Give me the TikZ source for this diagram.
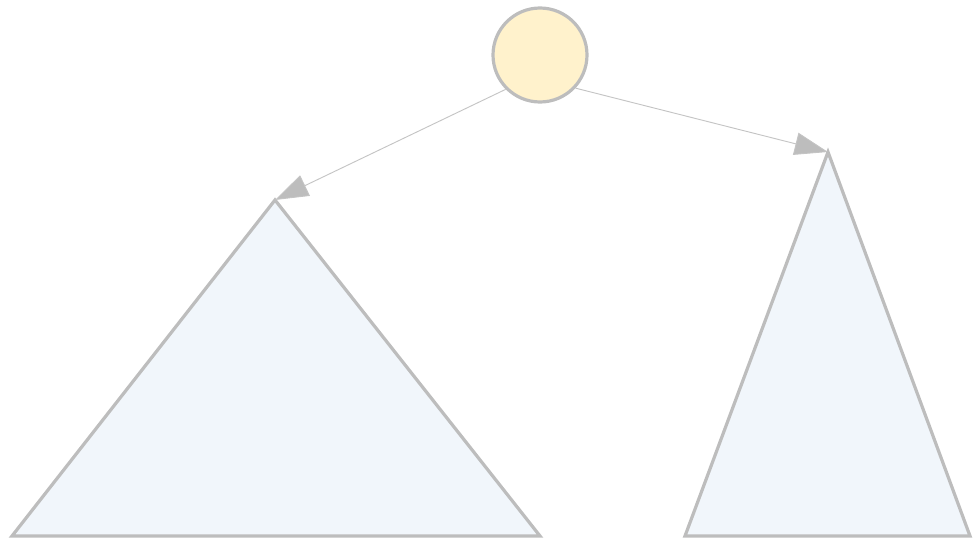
\documentclass[tikz,border=0pt]{standalone}
\usetikzlibrary{arrows.meta}
\definecolor{strokegray}{HTML}{BDBDBD}
\definecolor{linegray}{HTML}{C4C4C4}
\definecolor{nodeyellow}{HTML}{FFF2CC}
\definecolor{treeblue}{HTML}{F1F6FB}
\tikzset{
  rootnode/.style={circle, draw=strokegray, fill=nodeyellow, line width=2.4pt, minimum size=70.5pt, inner sep=0pt},
  subtree/.style={draw=strokegray, fill=treeblue, line width=2.4pt, line join=miter},
  edge/.style={draw=linegray, line width=0.7pt, -{Triangle[length=25pt,width=17pt,fill=strokegray]}},
}
\begin{document}
\begin{tikzpicture}[x=0.75pt,y=-0.75pt]
\useasboundingbox (0,0) rectangle (975,539);
% subtrees
\coordinate (la) at (275,200);
\coordinate (lb) at (12,536);
\coordinate (lc) at (540,536);
\coordinate (ra) at (828,152);
\coordinate (rb) at (685,536);
\coordinate (rc) at (970,536);
\path[subtree] (la) -- (lb) -- (lc) -- cycle;
\path[subtree] (ra) -- (rb) -- (rc) -- cycle;
% root
\node[rootnode] (root) at (540,55) {};
% edges
\draw[edge] (root.225) -- (la);
\draw[edge] (root.-43) -- (ra);
\end{tikzpicture}
\end{document}
